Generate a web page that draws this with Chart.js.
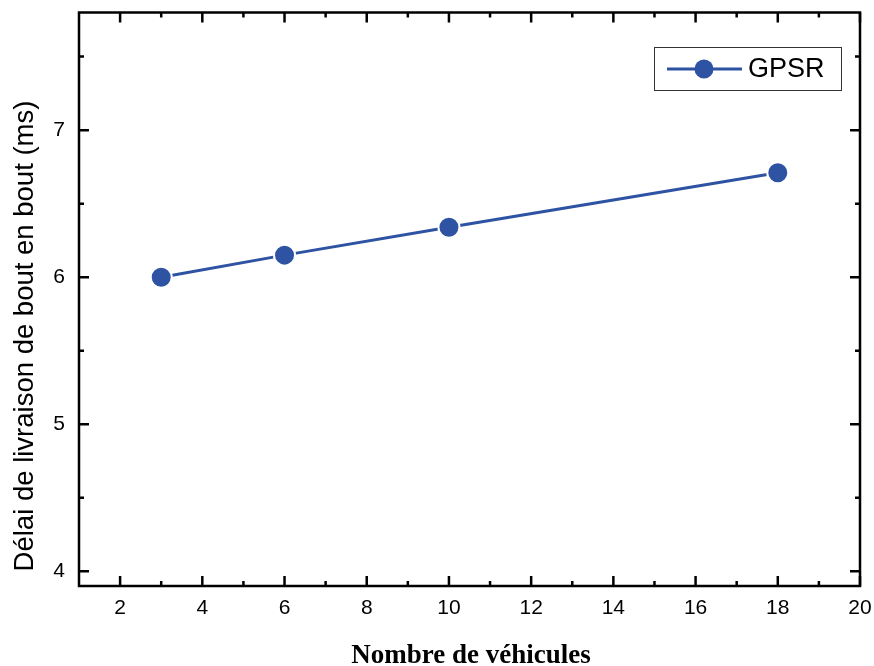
<!DOCTYPE html>
<html>
<head>
<meta charset="utf-8">
<script src="https://cdn.jsdelivr.net/npm/chart.js@4.4.1/dist/chart.umd.min.js"></script>
<style>
  html, body { margin: 0; padding: 0; background: #fff; }
  #wrap { width: 874px; height: 666px; }
</style>
</head>
<body>
<div id="wrap"><canvas id="delayChart" width="874" height="666"></canvas></div>
<script>
const vehicles = [3, 6, 10, 18];
const delayGPSR = [6.0, 6.15, 6.34, 6.71];
const xTicks = [2, 4, 6, 8, 10, 12, 14, 16, 18, 20];
const xMinorTicks = [3, 5, 7, 9, 11, 13, 15, 17, 19];
const yTicks = [4, 5, 6, 7];
const yMinorTicks = [4.5, 5.5, 6.5, 7.5];
const seriesName = 'GPSR';
const xTitle = 'Nombre de véhicules';
const yTitle = 'Délai de livraison de bout en bout (ms)';

const blue = '#2E53A3';

// frame, inward ticks on all sides, titles and the legend box
const framePlugin = {
    id: 'frame',
    afterDraw(chart) {
        const ctx = chart.ctx;
        const a = chart.chartArea;
        const xs = chart.scales.x;
        const ys = chart.scales.y;
        ctx.save();
        ctx.strokeStyle = '#000';
        ctx.lineWidth = 2.5;
        ctx.lineCap = 'butt';

        function tickX(v, len) {
            const px = xs.getPixelForValue(v);
            ctx.beginPath();
            ctx.moveTo(px, a.bottom); ctx.lineTo(px, a.bottom - len);
            ctx.moveTo(px, a.top); ctx.lineTo(px, a.top + len);
            ctx.stroke();
        }
        function tickY(v, len) {
            const py = ys.getPixelForValue(v);
            ctx.beginPath();
            ctx.moveTo(a.left, py); ctx.lineTo(a.left + len, py);
            ctx.moveTo(a.right, py); ctx.lineTo(a.right - len, py);
            ctx.stroke();
        }
        xTicks.forEach(v => tickX(v, 10));
        xMinorTicks.forEach(v => tickX(v, 5));
        yTicks.forEach(v => tickY(v, 10));
        yMinorTicks.forEach(v => tickY(v, 5));

        ctx.strokeRect(a.left, a.top, a.right - a.left, a.bottom - a.top);

        // axis titles
        ctx.fillStyle = '#000';
        ctx.font = 'bold 27px "Liberation Serif"';
        ctx.textAlign = 'center';
        ctx.textBaseline = 'alphabetic';
        ctx.fillText(xTitle, 471, 663);

        ctx.save();
        ctx.translate(33, 336);
        ctx.rotate(-Math.PI / 2);
        ctx.font = '27.5px "Liberation Sans"';
        ctx.fillText(yTitle, 0, 0);
        ctx.restore();

        // legend
        ctx.lineWidth = 1;
        ctx.strokeStyle = '#333';
        ctx.strokeRect(654.5, 47.5, 187, 43);
        ctx.strokeStyle = blue;
        ctx.lineWidth = 3;
        ctx.beginPath();
        ctx.moveTo(667, 69); ctx.lineTo(742, 69);
        ctx.stroke();
        ctx.fillStyle = blue;
        ctx.beginPath();
        ctx.arc(704, 69, 9.5, 0, Math.PI * 2);
        ctx.fill();
        ctx.fillStyle = '#000';
        ctx.font = '27px "Liberation Sans"';
        ctx.textAlign = 'left';
        ctx.textBaseline = 'middle';
        ctx.fillText(seriesName, 748, 70);
        ctx.restore();
    }
};

const ctx = document.getElementById('delayChart').getContext('2d');
new Chart(ctx, {
    type: 'line',
    data: {
        datasets: [{
            label: seriesName,
            data: vehicles.map((v, i) => ({ x: v, y: delayGPSR[i] })),
            borderColor: blue,
            backgroundColor: blue,
            borderWidth: 3,
            pointRadius: 10.5,
            pointBorderWidth: 2,
            pointBorderColor: '#fff',
            pointBackgroundColor: blue,
            fill: false,
            tension: 0
        }]
    },
    options: {
        responsive: false,
        animation: false,
        devicePixelRatio: 1,
        layout: { padding: { top: 10, right: 14, left: 0, bottom: 0 } },
        plugins: {
            legend: { display: false },
            tooltip: { enabled: false }
        },
        scales: {
            x: {
                type: 'linear',
                min: 1,
                max: 20,
                afterBuildTicks: s => { s.ticks = xTicks.map(v => ({ value: v })); },
                afterFit: s => { s.height = 80; s.paddingLeft = 0; s.paddingRight = 0; },
                grid: { display: false, drawTicks: false },
                border: { display: false },
                ticks: {
                    color: '#000',
                    font: { family: 'Liberation Sans', size: 21 },
                    padding: 10,
                    maxRotation: 0,
                    autoSkip: false
                }
            },
            y: {
                type: 'linear',
                min: 3.9,
                max: 7.8,
                afterBuildTicks: s => { s.ticks = yTicks.map(v => ({ value: v })); },
                afterFit: s => { s.width = 79; s.paddingTop = 0; s.paddingBottom = 0; },
                grid: { display: false, drawTicks: false },
                border: { display: false },
                ticks: {
                    color: '#000',
                    font: { family: 'Liberation Sans', size: 21 },
                    padding: 14,
                    autoSkip: false
                }
            }
        }
    },
    plugins: [framePlugin]
});
</script>
</body>
</html>
